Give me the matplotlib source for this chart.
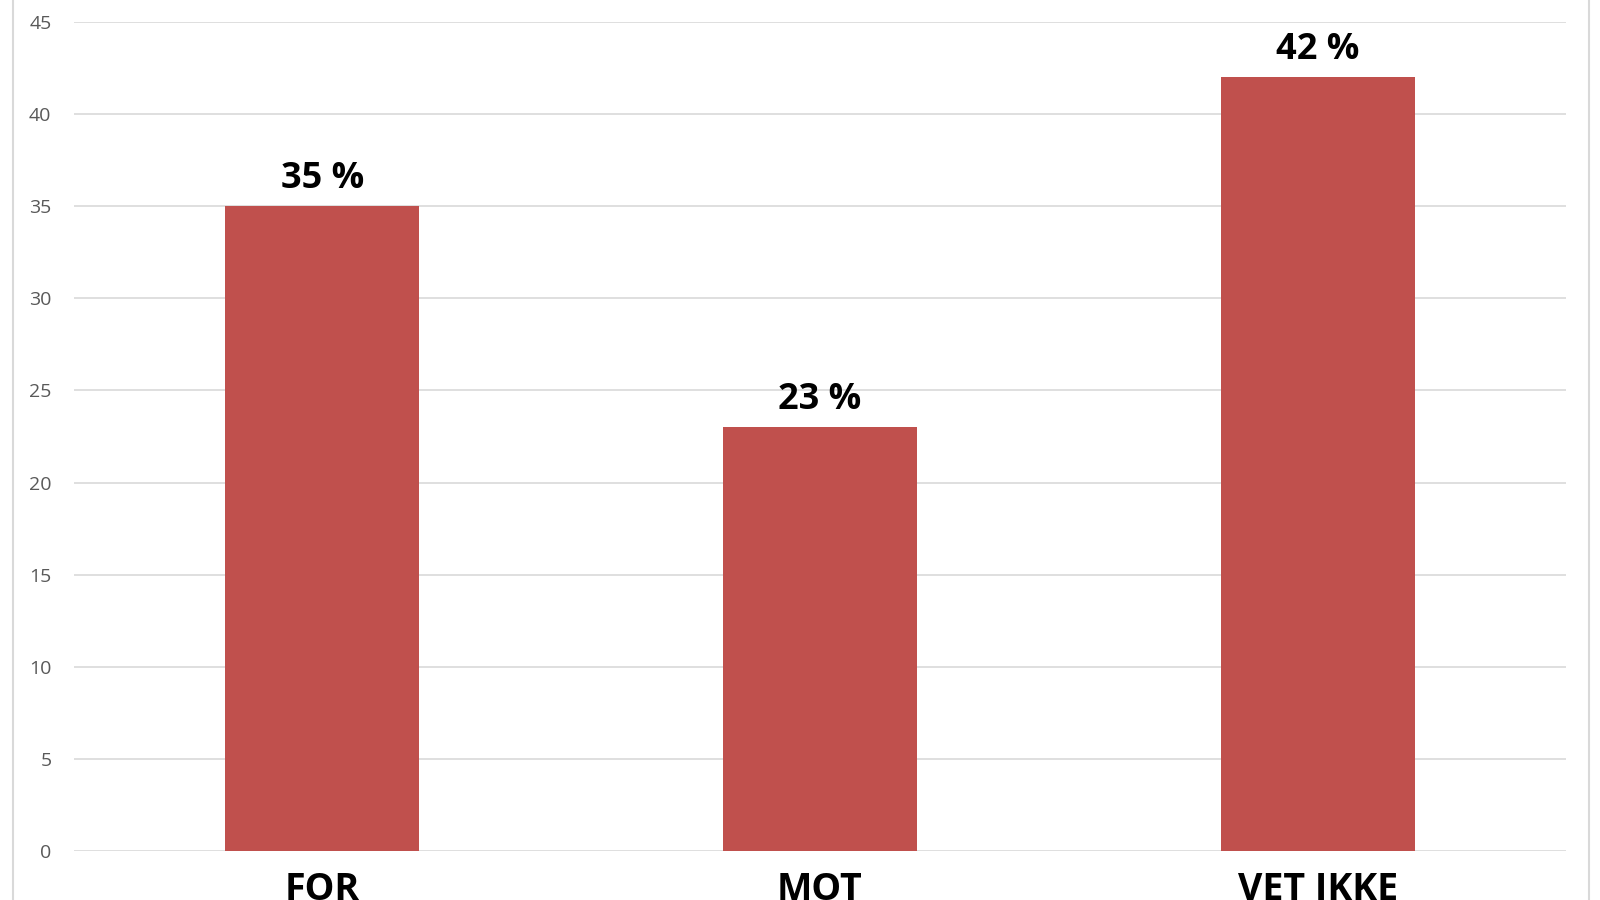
import matplotlib.pyplot as plt
from matplotlib.patches import Rectangle

categories = ["FOR", "MOT", "VET IKKE"]
values = [35, 23, 42]
labels = ["35 %", "23 %", "42 %"]

plt.rcParams['font.family'] = ['Open Sans', 'DejaVu Sans']

fig = plt.figure(figsize=(16, 9), dpi=100)
ax = fig.add_axes([0.046, 0.054, 0.933, 0.922])

x = range(len(categories))
ax.bar(x, values, width=0.39, color="#C0504D", zorder=3)
for xi, v, lab in zip(x, values, labels):
    ax.text(xi, v + 0.5, lab, ha="center", va="bottom", fontsize=26, fontweight="bold", color="black")

ax.set_xlim(-0.5, 2.5)
ax.set_ylim(0, 45)
ax.set_yticks(range(0, 46, 5))
ax.set_xticks(list(x))
ax.set_xticklabels(categories, fontsize=27, fontweight="bold")
ax.tick_params(axis="x", length=0, pad=14)
ax.tick_params(axis="y", length=0, labelsize=14, labelcolor="#595959", pad=16)
ax.grid(axis="y", color="#D9D9D9", linewidth=1.2, zorder=0)
for s in ax.spines.values():
    s.set_visible(False)

fig.patches.append(Rectangle((0.008, -0.01), 0.985, 1.02, transform=fig.transFigure,
                             fill=False, edgecolor="#D9D9D9", linewidth=1.5))

fig.savefig("out.png", dpi=100)
